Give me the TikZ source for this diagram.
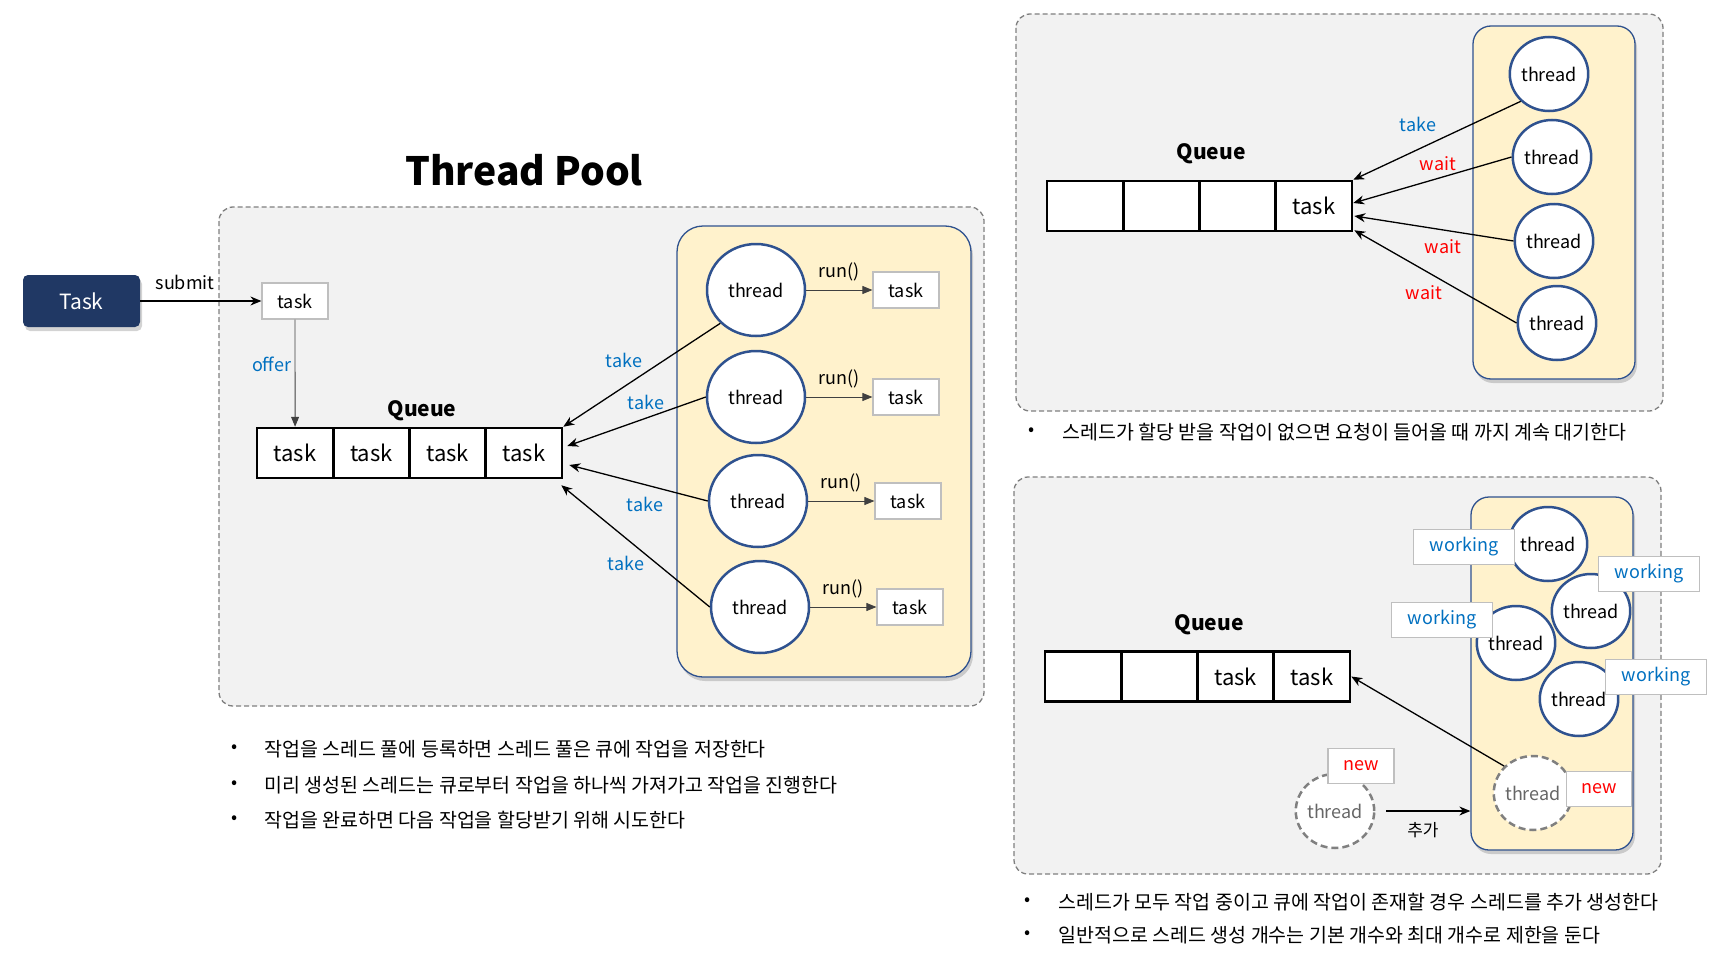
\documentclass[tikz,border=0pt]{standalone}
\usepackage{fontspec}
\setmainfont{Noto Sans CJK KR}
\usepackage{xcolor}
\usepackage{tikz}
\usetikzlibrary{arrows.meta, positioning, calc, shapes.geometric, shadows}
\definecolor{navy}{RGB}{32,56,100}
\definecolor{ring}{RGB}{47,82,143}
\definecolor{cream}{RGB}{255,242,204}
\definecolor{panelbg}{RGB}{242,242,242}
\definecolor{panelln}{RGB}{127,127,127}
\definecolor{labblue}{RGB}{0,112,192}
\definecolor{labred}{RGB}{255,0,0}
\definecolor{boxln}{RGB}{191,191,191}
\newcommand{\fs}[1]{\fontsize{#1}{#1}\selectfont}

\begin{document}
\begin{tikzpicture}[x=1pt, y=-1pt,
  panel/.style={draw=panelln, fill=panelbg, line width=1.3pt, dash pattern=on 5pt off 3pt, rounded corners=14pt},
  pool/.style={draw=ring, fill=cream, line width=1.3pt, inner sep=0pt,
    drop shadow={opacity=0.35, shadow xshift=2pt, shadow yshift=-4pt}},
  thread/.style={ellipse, draw=ring, fill=white, line width=2.5pt, inner sep=0pt, font=\fs{18}},
  bigthread/.style={minimum width=98pt, minimum height=92pt},
  smallthread/.style={minimum width=76pt, minimum height=74pt},
  newthread/.style={ellipse, draw=gray, fill=white, line width=2.5pt, dash pattern=on 7pt off 4pt,
    inner sep=0pt, minimum width=76pt, minimum height=74pt, text=black!60, font=\fs{18}},
  cell/.style={draw, fill=white, line width=2.5pt, minimum width=76.25pt, minimum height=50pt, inner sep=0pt, font=\fs{22}},
  tag/.style={draw=boxln, fill=white, line width=1.2pt, minimum height=35pt, inner sep=0pt, font=\fs{18}},
  take/.style={-{Stealth[length=11pt,width=9pt]}, line width=1.3pt},
  run/.style={-{Triangle[length=10pt,width=8pt]}, line width=0.9pt, draw=black!75},
  lab/.style={font=\fs{18}},
  qname/.style={font=\fs{21}\bfseries},
  bullet/.style={anchor=west, font=\fs{19.5}}
]
\useasboundingbox (0,0) rectangle (1719,966);

% Thread pool panel
\draw[panel] (219,207) rectangle (984,706);
\node[font=\fs{39}\bfseries] (title) at (524,170) {Thread Pool};
\node[fill=navy, rounded corners=5pt, minimum width=117pt, minimum height=52pt, text=white, font=\fs{21},
  drop shadow={opacity=0.35, shadow xshift=2pt, shadow yshift=-4pt}] (job) at (81.5,301) {Task};
\node[tag, minimum width=66pt, minimum height=36pt] (inbox) at (295,301) {task};
\draw[take] (job) -- node[above=7pt, pos=0.37, lab] {submit} (inbox);
% Queue
\node[qname] (qa) at (422,411) {Queue};
\foreach \i/\px in {1/295.1,2/371.4,3/447.6,4/523.9}
  \node[cell] (q\i) at (\px,453) {task};
\draw[run] (inbox) -- node[left, pos=0.42, lab, text=labblue] {offer} (q1);
% Threads
\node[pool, rounded corners=26pt, minimum width=294pt, minimum height=451pt] (poola) at (824,451.5) {};
\foreach \i/\tx/\ty/\bx in {1/756/290/906, 2/756/397/906, 3/758/501/908, 4/760/607/910} {
  \node[thread, bigthread] (t\i) at (\tx,\ty) {thread};
  \node[tag, minimum width=66pt, minimum height=36pt] (w\i) at (\bx,\ty) {task};
  \draw[run] (t\i) -- node[above=5pt, lab] {run()} (w\i);
}
\draw[take] (t1.223) -- (q4.north east);
\draw[take] (t2.west) -- ($(q4.east)+(4,-7)$);
\draw[take] (t3.west) -- ($(q4.east)+(6,12)$);
\draw[take] (t4.west) -- ($(q4.south east)+(-2,6)$);
\foreach \i/\lx/\ly in {1/624/360, 2/646/402, 3/645/504, 4/626/563}
  \node[lab, text=labblue] (take\i) at (\lx,\ly) {take};
% Notes
\foreach \i/\ty/\txt in {1/749/작업을 스레드 풀에 등록하면 스레드 풀은 큐에 작업을 저장한다,
    2/785/미리 생성된 스레드는 큐로부터 작업을 하나씩 가져가고 작업을 진행한다,
    3/820/작업을 완료하면 다음 작업을 할당받기 위해 시도한다} {
  \node[lab] (dota\i) at (235,\ty) {•};
  \node[bullet] (notea\i) at (261,\ty) {\txt};
}

% Waiting panel
\draw[panel] (1016,14) rectangle (1663,411);
\node[qname] (qb) at (1211,154) {Queue};
\foreach \i/\px/\txt in {1/1085.1/{}, 2/1161.4/{}, 3/1237.6/{}, 4/1313.9/task}
  \node[cell] (r\i) at (\px,206) {\txt};
\node[pool, rounded corners=18pt, minimum width=162pt, minimum height=353pt] (poolb) at (1554,202.5) {};
\foreach \i/\tx/\ty in {1/1549/74, 2/1552/157, 3/1554/241, 4/1557/323}
  \node[thread, smallthread] (s\i) at (\tx,\ty) {thread};
\draw[take] (s1.224) -- (r4.north east);
\draw[take] (s2.west) -- ($(r4.east)+(0,-3)$);
\draw[take] (s3.west) -- ($(r4.east)+(1,10)$);
\draw[take] (s4.west) -- ($(r4.south east)+(1,-2)$);
\node[lab, text=labblue] (takeb) at (1418,124) {take};
\foreach \i/\lx/\ly in {1/1438/164, 2/1443/247, 3/1424/293}
  \node[lab, text=labred] (wait\i) at (\lx,\ly) {wait};
\node[lab] (dotb) at (1032,432) {•};
\node[bullet] (noteb) at (1059,432) {스레드가 할당 받을 작업이 없으면 요청이 들어올 때 까지 계속 대기한다};

% Growing panel
\draw[panel] (1014,477) rectangle (1661,874);
\node[qname] (qc) at (1209,625) {Queue};
\foreach \i/\px/\txt in {1/1083.1/{}, 2/1159.4/{}, 3/1235.6/task, 4/1311.9/task}
  \node[cell] (b\i) at (\px,676.5) {\txt};
\node[pool, rounded corners=18pt, minimum width=162pt, minimum height=353pt] (poolc) at (1552,673.5) {};
\foreach \i/\tx/\ty/\gx/\gy in {1/1548/544/1464/547, 2/1591/611/1649/574, 3/1516/643/1442/620, 4/1579/699/1656/677} {
  \node[thread, smallthread] (u\i) at (\tx,\ty) {thread};
  \node[tag, minimum width=101pt, text=labblue] (busy\i) at (\gx,\gy) {working};
}
\node[newthread] (e) at (1533,793) {thread};
\node[tag, minimum width=65pt, text=labred] (newe) at (1599,789) {new};
\node[newthread] (f) at (1335,811) {thread};
\node[tag, minimum width=66pt, text=labred] (newf) at (1361,766) {new};
\draw[take] (e.137) -- (b4.east);
\draw[take, shorten <=11pt] (f.east) -- node[below=7pt, font=\fs{17}] {추가} (f.east -| poolc.west);
\foreach \i/\ty/\txt in {1/902/스레드가 모두 작업 중이고 큐에 작업이 존재할 경우 스레드를 추가 생성한다,
    2/935/일반적으로 스레드 생성 개수는 기본 개수와 최대 개수로 제한을 둔다} {
  \node[lab] (dotc\i) at (1028,\ty) {•};
  \node[bullet] (notec\i) at (1055,\ty) {\txt};
}
\end{tikzpicture}
\end{document}
